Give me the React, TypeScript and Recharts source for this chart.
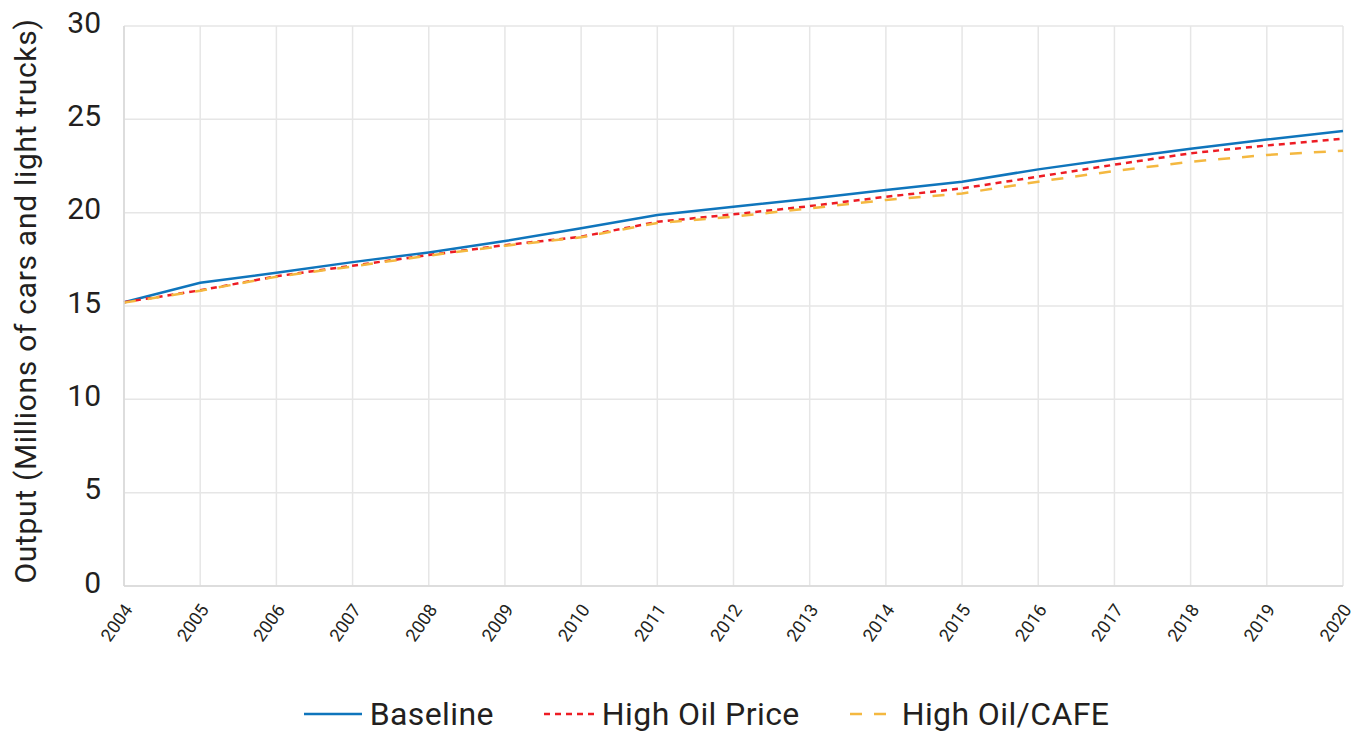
import { LineChart, Line, XAxis, YAxis, CartesianGrid, Legend } from "recharts";

const years = [
  "2004", "2005", "2006", "2007", "2008", "2009", "2010", "2011", "2012",
  "2013", "2014", "2015", "2016", "2017", "2018", "2019", "2020",
];

const baseline = [
  15.2, 16.25, 16.78, 17.35, 17.87, 18.48, 19.16, 19.87, 20.32, 20.75,
  21.21, 21.66, 22.32, 22.89, 23.42, 23.92, 24.37,
];

const highOilPrice = [
  15.2, 15.84, 16.59, 17.16, 17.73, 18.26, 18.71, 19.51, 19.91, 20.35,
  20.85, 21.3, 21.93, 22.57, 23.18, 23.6, 23.96,
];

const highOilCafe = [
  15.18, 15.82, 16.57, 17.12, 17.7, 18.23, 18.68, 19.45, 19.79, 20.23,
  20.68, 21.03, 21.66, 22.23, 22.73, 23.09, 23.32,
];

const yTicks = [0, 5, 10, 15, 20, 25, 30];

const data = years.map((y, i) => ({
  year: y,
  baseline: baseline[i],
  price: highOilPrice[i],
  cafe: highOilCafe[i],
}));

const FONT = "Roboto, 'DejaVu Sans', sans-serif";
const INK = "#231f20";

// rotated year labels under the axis
function YearTick(props: any) {
  const { x, y, payload } = props;
  return (
    <g transform={`translate(${x + 4},${y + 12})`}>
      <text
        transform="rotate(-55)"
        textAnchor="end"
        dominantBaseline="central"
        fontSize={18}
        fill={INK}
        fontFamily={FONT}
      >
        {payload.value}
      </text>
    </g>
  );
}

function YLabel(props: any) {
  const { viewBox } = props;
  const cy = viewBox.y + viewBox.height / 2 - 5;
  return (
    <text
      x={17}
      y={cy}
      transform={`rotate(-90, 17, ${cy})`}
      textAnchor="middle"
      dominantBaseline="central"
      fontSize={30}
      letterSpacing={0.7}
      fill={INK}
      fontFamily={FONT}
    >
      Output (Millions of cars and light trucks)
    </text>
  );
}

const legendItems = [
  { label: "Baseline", color: "#0f75bc", dash: undefined, w: 58 },
  { label: "High Oil Price", color: "#ed1c24", dash: "6 5", w: 50 },
  { label: "High Oil/CAFE", color: "#f4b840", dash: "12 12", w: 44 },
];

function LegendContent() {
  return (
    <div
      style={{
        display: "flex",
        justifyContent: "center",
        alignItems: "center",
        gap: 50,
        fontFamily: FONT,
        fontSize: 32,
        color: INK,
        paddingLeft: 62,
        paddingTop: 24,
      }}
    >
      {legendItems.map((it) => (
        <div key={it.label} style={{ display: "flex", alignItems: "center" }}>
          <svg width={it.w} height={10} style={{ marginRight: 8 }}>
            <line
              x1={0}
              y1={5}
              x2={it.w}
              y2={5}
              stroke={it.color}
              strokeWidth={2.5}
              strokeDasharray={it.dash}
            />
          </svg>
          <span style={{ letterSpacing: 0.4 }}>{it.label}</span>
        </div>
      ))}
    </div>
  );
}

export default function App() {
  return (
    <div style={{ width: 1352, height: 737, marginTop: -8, background: "#fff" }}>
      <LineChart
        width={1352}
        height={737}
        data={data}
        margin={{ top: 26, right: 17, bottom: 0, left: 0 }}
      >
        <CartesianGrid stroke="#e6e6e6" strokeWidth={1.5} />
        <XAxis
          dataKey="year"
          interval={0}
          height={85}
          tick={<YearTick />}
          tickLine={false}
          axisLine={{ stroke: "#d9d9d9", strokeWidth: 1.5 }}
        />
        <YAxis
          domain={[0, 30]}
          ticks={yTicks}
          width={116}
          tickLine={false}
          axisLine={{ stroke: "#d9d9d9", strokeWidth: 1.5 }}
          tickMargin={17}
          dy={-4}
          tick={{ fontSize: 30, fill: INK, fontFamily: FONT }}
          label={<YLabel />}
        />
        <Legend verticalAlign="bottom" height={66} content={<LegendContent />} />
        <Line
          type="linear"
          dataKey="baseline"
          name="Baseline"
          stroke="#0f75bc"
          strokeWidth={2.5}
          dot={false}
          isAnimationActive={false}
        />
        <Line
          type="linear"
          dataKey="price"
          name="High Oil Price"
          stroke="#ed1c24"
          strokeWidth={2.5}
          strokeDasharray="6 5"
          dot={false}
          isAnimationActive={false}
        />
        <Line
          type="linear"
          dataKey="cafe"
          name="High Oil/CAFE"
          stroke="#f4b840"
          strokeWidth={2.5}
          strokeDasharray="12 12"
          dot={false}
          isAnimationActive={false}
        />
      </LineChart>
    </div>
  );
}
